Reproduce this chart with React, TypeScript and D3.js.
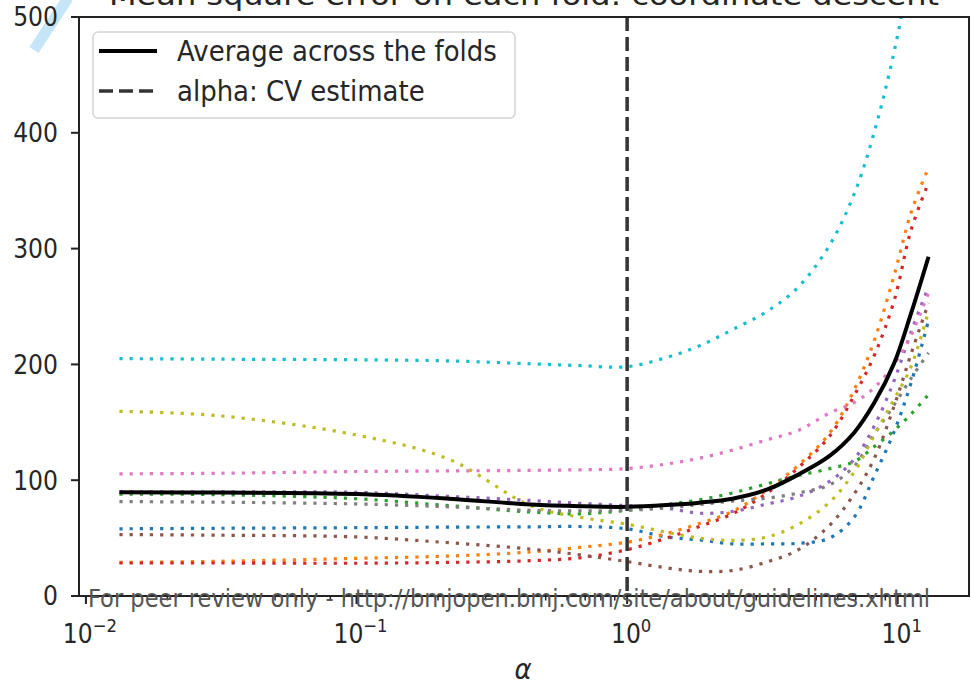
import React, { useEffect } from "react";
import * as d3 from "d3";

// alpha grid (shared by all folds)
const alphas = [0.0133, 0.0316, 0.1, 0.22, 0.44, 0.67, 1.0, 1.4, 1.85, 2.45, 3.3, 4.3, 5.6, 6.9, 8.2, 9.7, 11.2, 13.0];

// mean square error per fold (tab10 order)
const foldBlue = [58, 58.5, 59, 59.5, 59.7, 60, 58, 51, 48.4, 45, 45, 45.5, 50, 68, 104, 142, 184, 238];
const foldOrange = [29, 30, 32.5, 34.5, 38, 42, 46.5, 54, 62.6, 73, 92, 113, 140.6, 178, 221, 277, 331, 370];
const foldGreen = [88, 87.5, 84, 78, 72.5, 71, 74, 79, 83, 89, 97, 104, 110, 116, 129, 143, 157, 174];
const foldRed = [28.5, 28.5, 28.3, 29, 30.5, 33, 40, 50, 60, 71, 89, 111, 138, 173, 208, 255, 316, 357];
const foldPurple = [90, 90, 89.5, 86, 82.5, 80, 78, 75.8, 71.5, 73, 79.5, 86, 99, 118, 147, 186, 228, 267];
const foldBrown = [53, 52.5, 51, 46, 40.5, 35.5, 29.7, 24.3, 21.3, 22, 29.5, 40, 61, 88, 119, 164, 209, 253];
const foldPink = [105.5, 106, 107.5, 108, 108.5, 109, 110, 114, 119, 126, 135, 143, 158, 167, 180, 200, 225, 262];
const foldGray = [81.5, 81, 79.5, 77, 74, 73.5, 74, 76, 79, 82, 84.5, 89, 96, 112, 140, 165, 188, 210];
const foldOlive = [159.5, 155.5, 139, 118, 78, 68, 62, 55, 50, 48, 51, 62, 81, 107, 139, 170, 198, 246];
const foldCyan = [205, 204.5, 204, 203, 200.5, 199, 198, 206, 216, 230, 246, 267, 303, 347, 401, 470, 545, 620];

const folds = [foldBlue, foldOrange, foldGreen, foldRed, foldPurple, foldBrown, foldPink, foldGray, foldOlive, foldCyan];
const foldColors = ["#1f77b4", "#ff7f0e", "#2ca02c", "#d62728", "#9467bd", "#8c564b", "#e377c2", "#7f7f7f", "#bcbd22", "#17becf"];

const average = [89.5, 89.3, 88, 84, 79, 77.5, 77, 78.5, 80.6, 84, 92, 105, 121, 141, 167, 201, 244, 293];
const alphaCV = 1.0;

const yTicks = [0, 100, 200, 300, 400, 500];
const xTicks = [0.01, 0.1, 1, 10];
const xTickExps = ["\u22122", "\u22121", "0", "1"];

const W = 971;
const H = 685;
const left = 79, right = 969, top = 17, bottom = 596;
const font = "'DejaVu Sans', sans-serif";
const stretch = 1.12;

export default function App() {
  useEffect(() => {
    document.body.style.margin = "0";
  }, []);

  const lmin = Math.log10(d3.min(alphas)!);
  const lmax = Math.log10(d3.max(alphas)!);
  const pad = (lmax - lmin) * 0.05;
  const x = d3.scaleLog().domain([10 ** (lmin - pad), 10 ** (lmax + pad)]).range([left, right]);
  const y = d3.scaleLinear().domain([0, 500]).range([bottom, top]);

  const line = d3
    .line<number>()
    .x((_, i) => x(alphas[i]))
    .y((d) => y(d))
    .curve(d3.curveCatmullRom.alpha(0.5));

  const minorTicks: number[] = [];
  for (let e = -3; e <= 1; e++) {
    for (let m = 2; m <= 9; m++) {
      const v = m * 10 ** e;
      if (v >= x.domain()[0] && v <= x.domain()[1]) minorTicks.push(v);
    }
  }

  return (
    <svg width={W} height={H} style={{ position: "absolute", left: 0, top: 0, background: "#fff" }}>
      <defs>
        <clipPath id="plot">
          <rect x={left} y={top} width={right - left} height={bottom - top} />
        </clipPath>
      </defs>

      {/* watermark stroke */}
      <line x1={34} y1={50} x2={68} y2={-2} stroke="#c6e6f8" strokeWidth={11} />

      {/* title (cut off at top) */}
      <text x={(left + right) / 2} y={5} textAnchor="middle" fontFamily={font} fontSize={28} fill="#262626"
        textLength={830} lengthAdjust="spacingAndGlyphs">
        Mean square error on each fold: coordinate descent
      </text>

      <g clipPath="url(#plot)">
        {folds.map((f, i) => (
          <path key={i} d={line(f)!} fill="none" stroke={foldColors[i]} strokeWidth={3.2} strokeDasharray="3.2 7" />
        ))}
        <path d={line(average)!} fill="none" stroke="#000" strokeWidth={4} />
        <line x1={x(alphaCV)} x2={x(alphaCV)} y1={top} y2={bottom} stroke="#333" strokeWidth={3.5} strokeDasharray="14 6" />
      </g>

      {/* spines */}
      <rect x={left} y={top} width={right - left} height={bottom - top} fill="none" stroke="#222" strokeWidth={2} />

      {/* y ticks */}
      {yTicks.map((t) => (
        <g key={t}>
          <line x1={left - 8} x2={left} y1={y(t)} y2={y(t)} stroke="#222" strokeWidth={2} />
          <text transform={`translate(${left - 21},${y(t)}) scale(1,${stretch})`} dy="0.36em" textAnchor="end"
            fontFamily={font} fontSize={23.5} fill="#262626">
            {t}
          </text>
        </g>
      ))}

      {/* x ticks */}
      {minorTicks.map((t) => (
        <line key={"m" + t} x1={x(t)} x2={x(t)} y1={bottom} y2={bottom + 4.5} stroke="#222" strokeWidth={1.5} />
      ))}
      {xTicks.map((t, i) => (
        <g key={t}>
          <line x1={x(t)} x2={x(t)} y1={bottom} y2={bottom + 8} stroke="#222" strokeWidth={2} />
          <text transform={`translate(${x(t) + 4},${643}) scale(1,${stretch})`} textAnchor="middle" fontFamily={font}
            fontSize={23.5} fill="#262626">
            10
            <tspan dy={-10} fontSize={16.5}>{xTickExps[i]}</tspan>
          </text>
        </g>
      ))}

      {/* x label */}
      <text transform={`translate(${(left + right) / 2 - 1},679) scale(1,${stretch})`} textAnchor="middle"
        fontFamily={font} fontStyle="italic" fontSize={26} fill="#262626">
        α
      </text>

      {/* legend */}
      <rect x={93} y={32} width={422} height={86} rx={5} fill="#fff" fillOpacity={0.8} stroke="#d4d4d4" strokeWidth={1.5} />
      <line x1={99} x2={157} y1={51} y2={51} stroke="#000" strokeWidth={4} />
      <line x1={99} x2={157} y1={91} y2={91} stroke="#333" strokeWidth={3.5} strokeDasharray="14 6" />
      <text transform={`translate(177,61) scale(1,${stretch})`} fontFamily={font} fontSize={26} fill="#262626">
        Average across the folds
      </text>
      <text transform={`translate(177,101) scale(1,${stretch})`} fontFamily={font} fontSize={26} fill="#262626">
        alpha: CV estimate
      </text>

      {/* review watermark */}
      <text x={88} y={607} fontFamily="'Liberation Sans Narrow', 'DejaVu Sans Condensed', 'Liberation Sans', sans-serif"
        fontSize={24} fill="#555" textLength={842} lengthAdjust="spacingAndGlyphs">
        For peer review only - http://bmjopen.bmj.com/site/about/guidelines.xhtml
      </text>
    </svg>
  );
}
